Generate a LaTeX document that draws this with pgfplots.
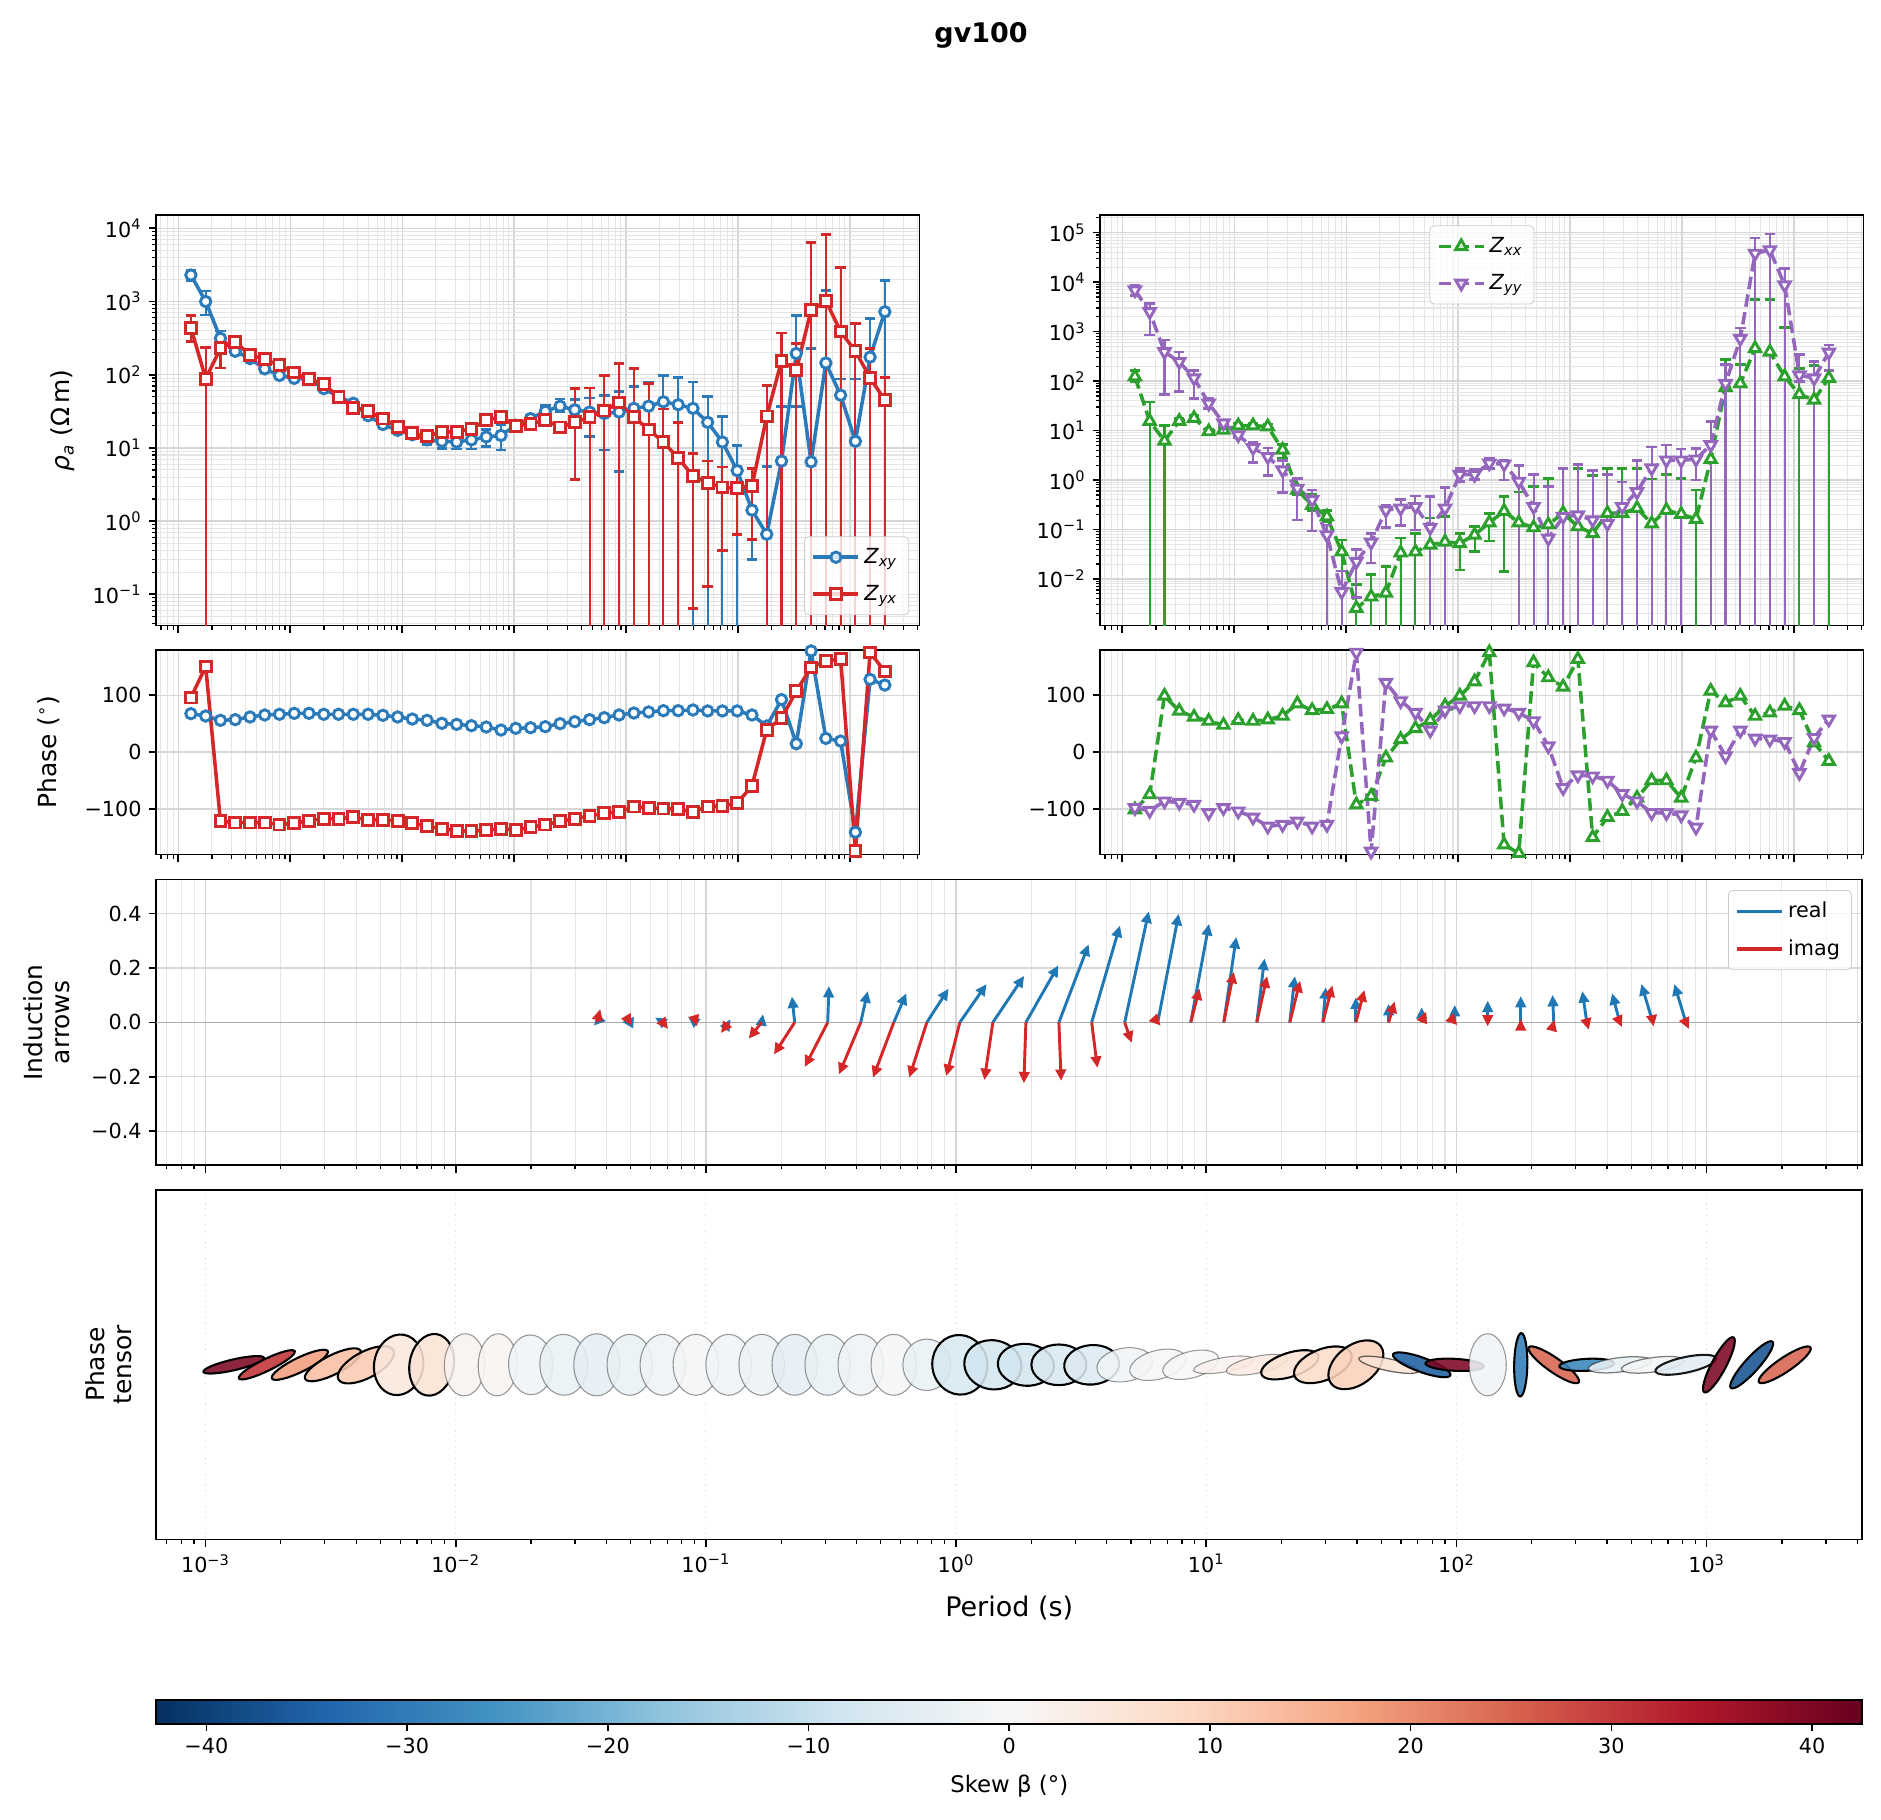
\documentclass[border=0pt]{standalone}
\usepackage{fontspec}
\setmainfont{DejaVu Sans}
\usepackage{pgfplots}
\usepackage{pgfplotstable}
\pgfplotsset{compat=1.18}
\usetikzlibrary{arrows.meta}

\definecolor{cxy}{HTML}{2B7BBA}
\definecolor{cyx}{HTML}{D62728}
\definecolor{cxx}{HTML}{2CA02C}
\definecolor{cyy}{HTML}{9467BD}
\definecolor{cre}{HTML}{1F77B4}
\definecolor{cim}{HTML}{D62728}

\def\xminors{-3.15490,-3.09691,-3.04576,-2.69897,-2.52288,-2.39794,-2.30103,-2.22185,-2.15490,-2.09691,-2.04576,-1.69897,-1.52288,-1.39794,-1.30103,-1.22185,-1.15490,-1.09691,-1.04576,-0.69897,-0.52288,-0.39794,-0.30103,-0.22185,-0.15490,-0.09691,-0.04576,0.30103,0.47712,0.60206,0.69897,0.77815,0.84510,0.90309,0.95424,1.30103,1.47712,1.60206,1.69897,1.77815,1.84510,1.90309,1.95424,2.30103,2.47712,2.60206,2.69897,2.77815,2.84510,2.90309,2.95424,3.30103,3.47712,3.60206}
\def\yminL{-1.39794,-1.30103,-1.22185,-1.15490,-1.09691,-1.04576,-0.69897,-0.52288,-0.39794,-0.30103,-0.22185,-0.15490,-0.09691,-0.04576,0.30103,0.47712,0.60206,0.69897,0.77815,0.84510,0.90309,0.95424,1.30103,1.47712,1.60206,1.69897,1.77815,1.84510,1.90309,1.95424,2.30103,2.47712,2.60206,2.69897,2.77815,2.84510,2.90309,2.95424,3.30103,3.47712,3.60206,3.69897,3.77815,3.84510,3.90309,3.95424}
\def\yminR{-2.69897,-2.52288,-2.39794,-2.30103,-2.22185,-2.15490,-2.09691,-2.04576,-1.69897,-1.52288,-1.39794,-1.30103,-1.22185,-1.15490,-1.09691,-1.04576,-0.69897,-0.52288,-0.39794,-0.30103,-0.22185,-0.15490,-0.09691,-0.04576,0.30103,0.47712,0.60206,0.69897,0.77815,0.84510,0.90309,0.95424,1.30103,1.47712,1.60206,1.69897,1.77815,1.84510,1.90309,1.95424,2.30103,2.47712,2.60206,2.69897,2.77815,2.84510,2.90309,2.95424,3.30103,3.47712,3.60206,3.69897,3.77815,3.84510,3.90309,3.95424,4.30103,4.47712,4.60206,4.69897,4.77815,4.84510,4.90309,4.95424,5.30103}

\pgfdeclareplotmark{ptell}{%
  \pgfpathellipse{\pgfpointorigin}{\pgfqpoint{\ea pt}{0pt}}{\pgfqpoint{0pt}{\eb pt}}%
  \pgfusepathqfillstroke}

% log10 period, log10 rho and log10 error offsets (plus / minus)
\pgfplotstableread{
lp xy xyp xym yx yxp yxm
-2.887 3.362 0.07 0.08 2.643 0.17 0.19
-2.755 3.000 0.144 0.184 1.946 0.43 10
-2.623 2.497 0.10 0.09 2.36 0.05 0.27
-2.491 2.32 0.04 0.04 2.45 0.04 0.04
-2.359 2.22 0.03 0.03 2.27 0.03 0.03
-2.228 2.08 0.03 0.03 2.21 0.03 0.03
-2.096 1.99 0.03 0.03 2.13 0.03 0.03
-1.964 1.95 0.03 0.03 2.03 0.03 0.03
-1.832 1.94 0.03 0.03 1.94 0.03 0.03
-1.700 1.81 0.03 0.03 1.87 0.03 0.03
-1.568 1.70 0.03 0.03 1.70 0.03 0.03
-1.436 1.61 0.03 0.03 1.55 0.03 0.03
-1.304 1.44 0.03 0.03 1.50 0.03 0.03
-1.172 1.32 0.03 0.03 1.40 0.03 0.03
-1.040 1.24 0.03 0.03 1.29 0.03 0.03
-0.909 1.18 0.03 0.03 1.20 0.03 0.03
-0.777 1.11 0.06 0.06 1.16 0.03 0.03
-0.645 1.09 0.08 0.095 1.22 0.03 0.03
-0.513 1.08 0.09 0.095 1.22 0.03 0.03
-0.381 1.11 0.10 0.125 1.26 0.03 0.03
-0.249 1.15 0.10 0.13 1.38 0.03 0.03
-0.117 1.17 0.15 0.20 1.42 0.04 0.04
0.015 1.31 0.05 0.05 1.30 0.04 0.04
0.147 1.40 0.05 0.05 1.33 0.04 0.04
0.279 1.50 0.08 0.08 1.38 0.04 0.04
0.411 1.57 0.10 0.07 1.28 0.05 0.05
0.542 1.52 0.14 0.14 1.35 0.46 0.78
0.674 1.49 0.19 0.33 1.42 0.40 10
0.806 1.47 0.25 0.50 1.51 0.48 10
0.938 1.49 0.28 0.81 1.62 0.53 10
1.070 1.54 0.30 10 1.42 0.66 10
1.202 1.57 0.33 10 1.25 0.63 10
1.334 1.63 0.36 10 1.08 0.45 10
1.466 1.59 0.37 10 0.86 0.49 10
1.598 1.54 0.36 10 0.62 0.30 1.81
1.729 1.35 0.35 10 0.52 0.30 1.41
1.861 1.08 0.35 10 0.46 0.28 0.86
1.993 0.69 0.34 10 0.45 0.30 0.63
2.125 0.15 0.57 0.67 0.48 0.24 0.73
2.257 -0.18 0.93 10 1.43 0.42 10
2.389 0.82 0.75 10 2.19 0.38 10
2.521 2.29 0.52 0.72 2.06 0.37 10
2.653 0.81 1.55 10 2.88 0.93 10
2.785 2.16 0.99 10 3.01 0.91 10
2.917 1.72 0.22 10 2.59 0.87 10
3.049 1.09 0.85 10 2.32 0.38 10
3.180 2.24 0.53 10 1.96 0.40 10
3.312 2.86 0.43 10 1.65 0.31 10
}\rhoL

\pgfplotstableread{
lp xx xxp xxm yy yyp yym
-2.887 2.089 0.13 0.10 3.84 0.10 0.11
-2.755 1.19 0.39 10 3.40 0.17 0.47
-2.623 0.79 0.31 10 2.59 0.24 0.86
-2.491 1.19 0.05 0.05 2.39 0.20 0.60
-2.359 1.25 0.05 0.05 2.06 0.16 0.41
-2.228 0.98 0.05 0.05 1.55 0.11 0.10
-2.096 1.01 0.05 0.05 1.15 0.05 0.05
-1.964 1.10 0.05 0.05 0.91 0.05 0.05
-1.832 1.10 0.05 0.05 0.65 0.12 0.29
-1.700 1.08 0.05 0.05 0.47 0.18 0.38
-1.568 0.61 0.11 0.17 0.20 0.20 0.45
-1.436 -0.20 0.23 0.10 -0.17 0.20 0.64
-1.304 -0.51 0.22 0.10 -0.40 0.20 0.63
-1.172 -0.74 0.13 0.10 -1.11 0.20 10
-1.040 -1.45 0.24 10 -2.26 0.42 10
-0.909 -2.59 0.48 10 -1.65 0.24 0.73
-0.777 -2.36 0.45 10 -1.26 0.18 0.42
-0.645 -2.28 0.53 10 -0.61 0.10 0.35
-0.513 -1.47 0.30 10 -0.57 0.17 0.35
-0.381 -1.45 0.37 10 -0.54 0.22 0.47
-0.249 -1.31 0.54 10 -0.96 0.62 10
-0.117 -1.25 0.51 10 -0.57 0.42 10
0.015 -1.28 0.20 0.54 0.11 0.13 0.14
0.147 -1.11 0.17 0.34 0.11 0.10 0.10
0.279 -0.86 0.19 0.37 0.34 0.10 0.10
0.411 -0.63 0.29 1.22 0.32 0.08 0.32
0.542 -0.86 0.62 10 -0.03 0.32 10
0.674 -0.96 0.83 10 -0.54 0.65 10
0.806 -0.90 0.93 10 -1.18 1.05 10
0.938 -0.67 0.91 10 -0.74 0.98 10
1.070 -0.94 1.18 10 -0.71 1.03 10
1.202 -1.08 1.17 10 -0.81 1.00 10
1.334 -0.67 0.91 10 -0.88 0.99 10
1.466 -0.67 0.91 10 -0.54 0.50 10
1.598 -0.57 0.81 10 -0.24 0.64 10
1.729 -0.88 0.90 10 0.24 0.43 10
1.861 -0.61 0.72 10 0.40 0.31 10
1.993 -0.69 0.72 10 0.40 0.23 10
2.125 -0.79 0.59 10 0.42 0.22 0.42
2.257 0.42 0.77 10 0.71 0.47 10
2.389 1.87 0.56 10 1.95 0.39 10
2.521 1.95 0.39 10 2.86 0.21 10
2.653 2.66 0.99 10 4.58 0.31 10
2.785 2.59 1.06 10 4.65 0.32 10
2.917 2.09 1.00 10 3.94 0.33 10
3.049 1.73 0.53 10 2.12 0.42 0.13
3.180 1.62 0.69 10 2.06 0.33 10
3.312 2.06 0.16 10 2.58 0.15 0.36
}\rhoR

\pgfplotstableread{
lp pxy pyx pxx pyy
-2.887 67.6 95.9 -101.2 -98.2
-2.755 63.5 150.6 -74.7 -103
-2.623 55.9 -121.8 98.8 -86.5
-2.491 57.1 -124.1 72.4 -88.8
-2.359 61.8 -124.1 61.8 -92.4
-2.228 65.3 -124.1 54.7 -107
-2.096 66.5 -127.6 47.6 -98.2
-1.964 68.2 -125.3 55.9 -104
-1.832 68.2 -120.6 54.7 -114.7
-1.700 66.5 -117.1 57.1 -130.6
-1.568 66.5 -117.1 63.5 -127.6
-1.436 66.5 -114.7 85.3 -121.8
-1.304 66.5 -119.4 73.5 -130.6
-1.172 64.7 -119.4 75.3 -127.6
-1.040 61.8 -120.6 85.3 28.2
-0.909 58.2 -124.7 -92.4 175.3
-0.777 55.9 -130.6 -77.6 -174.7
-0.645 50.6 -134.7 -10 122.4
-0.513 48.8 -138.2 22.4 90
-0.381 46.5 -139.4 41.8 69.4
-0.249 44.1 -137.1 55.9 38.2
-0.117 38.8 -134.7 81.2 73.5
0.015 41.8 -137.1 98.8 81.2
0.147 42.9 -132.4 124.1 81.2
0.279 44.7 -127.6 175.3 81.2
0.411 50.0 -121.8 -163 77.1
0.542 53.5 -117.1 -178 69.4
0.674 57.1 -112.4 157.6 54.7
0.806 60.6 -107.6 131.2 10.6
0.938 65.3 -105.3 114.7 -62.9
1.070 68.8 -95.9 163.5 -40.6
1.202 70.6 -98.2 -150 -42.4
1.334 72.9 -99.4 -114.7 -50
1.466 72.9 -100.6 -104.1 -73.5
1.598 74.1 -105.3 -80.6 -86.5
1.729 72.4 -95.9 -50 -107
1.861 72.4 -94.7 -50 -107
1.993 72.4 -90.0 -80.6 -111
2.125 65.3 -59.4 -10 -132.4
2.257 45.9 39.4 107.6 38.2
2.389 92.4 59.4 87 -7
2.521 14.7 107.6 98.8 38.2
2.653 178 148.8 63.5 24.1
2.785 24.1 160.6 69.4 22.4
2.917 19.4 163.5 81.2 18.2
3.049 -141 -173.5 73.5 -36.5
3.180 128 175.3 16.5 25.3
3.312 118 141.8 -15.9 57.6
}\phs

% induction arrows: base at log10 period, components (u in decades, v)
\pgfplotstableread{
lp ru rv iu iv
-1.436 -0.012 -0.012 0.014 0.049
-1.304 -0.031 0.002 0.008 -0.012
-1.172 -0.031 0.018 0.021 -0.024
-1.040 -0.031 0.022 0.005 -0.015
-0.909 0.008 0.012 -0.031 -0.039
-0.777 0.005 0.030 -0.052 -0.060
-0.645 -0.011 0.095 -0.083 -0.118
-0.513 0.005 0.134 -0.092 -0.164
-0.381 0.028 0.115 -0.087 -0.191
-0.249 0.050 0.107 -0.083 -0.203
-0.117 0.087 0.124 -0.070 -0.203
0.015 0.107 0.141 -0.054 -0.197
0.147 0.125 0.171 -0.034 -0.212
0.279 0.130 0.210 -0.008 -0.224
0.411 0.119 0.287 0.009 -0.215
0.542 0.113 0.356 0.023 -0.167
0.674 0.096 0.408 0.028 -0.075
0.806 0.084 0.399 0.012 -0.012
0.938 0.073 0.362 0.035 0.125
1.070 0.050 0.314 0.040 0.186
1.202 0.031 0.235 0.041 0.170
1.334 0.020 0.170 0.041 0.153
1.466 0.012 0.129 0.038 0.136
1.598 0.000 0.092 0.034 0.119
1.729 0.000 0.068 0.024 0.077
1.861 0.000 0.056 0.018 0.040
1.993 0.000 0.064 0.011 -0.010
2.125 0.000 0.080 0.000 -0.015
2.257 0.000 0.097 0.000 0.012
2.389 -0.005 0.101 0.003 0.010
2.521 -0.018 0.115 0.008 -0.027
2.653 -0.031 0.107 0.008 -0.017
2.785 -0.046 0.141 0.003 -0.015
2.917 -0.046 0.141 0.012 -0.024
}\ind

% phase tensor ellipses: semi-axes (px), angle (deg), skew (deg), edge width, edge opacity
\pgfplotstableread{
lp a b ang skew lw eo
-2.887 26 4.5 13 40 1.0 1
-2.755 26 5 26 31 1.0 1
-2.623 26 6 26 18 1.0 1
-2.491 26 8 27 13 1.0 1
-2.359 26 11 28 11 1.0 1
-2.228 25.5 20.5 80 5 1.0 1
-2.096 26 18.5 80 6 1.0 1
-1.964 26 17 88 1.5 0.5 0.4
-1.832 26 16.3 88 1 0.5 0.4
-1.700 25 18.5 92 -1.5 0.5 0.4
-1.568 25.5 20 92 -3 0.5 0.4
-1.436 26 19.2 90 -4 0.5 0.4
-1.304 25.5 19 90 -3 0.5 0.4
-1.172 25.5 19 90 -2 0.5 0.4
-1.040 25.5 19 90 -0.8 0.5 0.4
-0.909 25.5 19 90 -1.5 0.5 0.4
-0.777 25.5 19 90 -2.5 0.5 0.4
-0.645 25.5 19 90 -4 0.5 0.4
-0.513 25.5 19 90 -3 0.5 0.4
-0.381 25.5 19 90 -2 0.5 0.4
-0.249 25.5 19 90 -0.8 0.5 0.4
-0.117 21.5 20 90 -3 0.5 0.4
0.015 25 23 100 -7 1.0 1
0.147 24 20.5 170 -8 1.0 1
0.279 23.5 17.5 175 -8 1.0 1
0.411 23 17 0 -7 1.0 1
0.542 23 16.5 5 -6 1.0 1
0.674 23.5 14 10 -1.5 0.5 0.4
0.806 24 12 15 -0.5 0.5 0.4
0.938 24 11 15 0 0.5 0.4
1.070 25.5 6 10 1.5 0.5 0.4
1.202 26 7 12 4 0.5 0.4
1.334 25 10 18 6 1.0 1
1.466 25.5 13 22 8 1.0 1
1.598 26 16.5 37 10 1.0 1
1.729 25.5 5 -12 6 0.6 0.6
1.861 25.5 6 -20 -35 1.0 1
1.993 24.5 5 -3 40 1.0 1
2.125 26 15.5 90 -1.5 0.5 0.4
2.257 26.5 5.5 89 -30 1.0 1
2.389 25.5 6 -35 25 1.0 1
2.521 23 5 3 -28 1.0 1
2.653 26.5 6 7 -3 0.6 0.5
2.785 26.5 6 8 -1 0.6 0.5
2.917 26 6.5 12 -5 1.0 0.9
3.049 26 6 62 40 1.0 1
3.180 26 6 48 -37 1.0 1
3.312 26 6 34 25 1.0 1
}\ptens

\pgfplotsset{
  every axis/.append style={
    tick align=outside,
    major tick length=3.5bp, minor tick length=2bp,
    every major tick/.append style={line width=0.8bp, black},
    every minor tick/.append style={line width=0.6bp, black},
    axis line style={line width=0.8bp},
    tick label style={font=\fontsize{10}{12}\selectfont},
    label style={font=\fontsize{12}{13}\selectfont},
  },
  base/.style={
    scale only axis, anchor=north west,
    xmin=-3.197, xmax=3.622, tick pos=left,
    xtick={-3,-2,-1,0,1,2,3}, minor xtick=\xminors,
    major grid style={black!16, line width=0.6bp},
    minor grid style={black!10, line width=0.5bp},
    legend style={font=\fontsize{10}{12}\selectfont, draw=black!20, rounded corners=2bp,
      fill=white, fill opacity=0.8, text opacity=1, inner sep=3.5bp, row sep=5bp},
    legend cell align=left,
    legend image code/.code={\draw[mark repeat=2,mark phase=2,##1] plot coordinates {(0cm,0cm) (0.38cm,0cm) (0.76cm,0cm)};},
  },
  xlabs/.style={xticklabels={10\textsuperscript{−3},10\textsuperscript{−2},10\textsuperscript{−1},10\textsuperscript{0},10\textsuperscript{1},10\textsuperscript{2},10\textsuperscript{3}}},
  ebar/.style={error bars/.cd, y dir=both, y explicit, error bar style={line width=1.0bp, solid}, error mark options={rotate=90, line width=1.3bp, mark size=2.5bp, solid}},
  lw/.style={line width=1.7bp},
  mo/.style={mark options={fill=white, line width=1.4bp, solid, #1}},
}

\begin{document}
\begin{tikzpicture}
\path[use as bounding box] (0,0) rectangle (902.88bp,-873.12bp);
\node[font=\bfseries\fontsize{13}{15}\selectfont, anchor=base] at (470.9bp,-20.6bp) {gv100};

% ---------- apparent resistivity, off-diagonal
\begin{axis}[base, at={(74.98bp,-103.2bp)}, width=366.4bp, height=197.1bp,
  ymin=-1.428, ymax=4.182, ytick={-1,0,1,2,3,4}, minor ytick=\yminL,
  yticklabels={10\textsuperscript{−1},10\textsuperscript{0},10\textsuperscript{1},10\textsuperscript{2},10\textsuperscript{3},10\textsuperscript{4}},
  xticklabels={}, grid=both,
  ylabel={\textit{ρ}\textsubscript{\textit{a}} (Ω\,m)},
  ylabel style={at={(axis description cs:-0.122,0.5)}, anchor=center},
  legend style={at={(1,0)}, anchor=south east, xshift=-5bp, yshift=5bp}]
\addplot[cxy, lw, mark=*, mark size=2.5bp, mo={}, ebar]
  table[x=lp, y=xy, y error plus=xyp, y error minus=xym] {\rhoL};
\addlegendentry{\textit{Z}\textsubscript{\textit{xy}}}
\addplot[cyx, lw, mark=square*, mark size=2.6bp, mo={}, ebar]
  table[x=lp, y=yx, y error plus=yxp, y error minus=yxm] {\rhoL};
\addlegendentry{\textit{Z}\textsubscript{\textit{yx}}}
\end{axis}

% ---------- apparent resistivity, diagonal
\begin{axis}[base, at={(528.1bp,-103.2bp)}, width=366.4bp, height=197.1bp,
  ymin=-2.943, ymax=5.357, ytick={-2,-1,0,1,2,3,4,5}, minor ytick=\yminR,
  yticklabels={10\textsuperscript{−2},10\textsuperscript{−1},10\textsuperscript{0},10\textsuperscript{1},10\textsuperscript{2},10\textsuperscript{3},10\textsuperscript{4},10\textsuperscript{5}},
  xticklabels={}, grid=both,
  legend style={at={(0.5,1)}, anchor=north, yshift=-5bp}]
\addplot[cxx, lw, dash pattern=on 6bp off 2.6bp, mark=triangle*, mark size=3.1bp, mo={}, ebar]
  table[x=lp, y=xx, y error plus=xxp, y error minus=xxm] {\rhoR};
\addlegendentry{\textit{Z}\textsubscript{\textit{xx}}}
\addplot[cyy, lw, dash pattern=on 6bp off 2.6bp, mark=triangle*, mark size=3.1bp, mo={rotate=180}, ebar]
  table[x=lp, y=yy, y error plus=yyp, y error minus=yym] {\rhoR};
\addlegendentry{\textit{Z}\textsubscript{\textit{yy}}}
\end{axis}

% ---------- phase, off-diagonal
\begin{axis}[base, at={(74.98bp,-311.9bp)}, width=366.4bp, height=98.2bp,
  ymin=-180, ymax=180, ytick={-100,0,100}, yticklabels={−100,0,100},
  xticklabels={}, xmajorgrids, xminorgrids, ymajorgrids,
  ylabel={Phase (\textsuperscript{∘})},
  ylabel style={at={(axis description cs:-0.1414,0.5)}, anchor=center}]
\addplot[cxy, lw, mark=*, mark size=2.5bp, mo={}]
  table[x=lp, y=pxy] {\phs};
\addplot[cyx, lw, mark=square*, mark size=2.6bp, mo={}]
  table[x=lp, y=pyx] {\phs};
\end{axis}

% ---------- phase, diagonal
\begin{axis}[base, at={(528.1bp,-311.9bp)}, width=366.4bp, height=98.2bp,
  ymin=-180, ymax=180, ytick={-100,0,100}, yticklabels={−100,0,100},
  xticklabels={}, xmajorgrids, xminorgrids, ymajorgrids]
\addplot[cxx, lw, dash pattern=on 6bp off 2.6bp, mark=triangle*, mark size=3.1bp, mo={}]
  table[x=lp, y=pxx] {\phs};
\addplot[cyy, lw, dash pattern=on 6bp off 2.6bp, mark=triangle*, mark size=3.1bp, mo={rotate=180}]
  table[x=lp, y=pyy] {\phs};
\end{axis}

% ---------- induction arrows
\begin{axis}[base, at={(74.98bp,-422.2bp)}, width=818.9bp, height=137.1bp,
  ymin=-0.525, ymax=0.525, ytick={-0.4,-0.2,0,0.2,0.4}, yticklabels={−0.4,−0.2,0.0,0.2,0.4},
  xticklabels={}, xmajorgrids, xminorgrids, ymajorgrids,
  ylabel={Induction\\arrows},
  ylabel style={align=center, at={(axis description cs:-0.0642,0.5)}, anchor=center},
  legend style={at={(1,1)}, anchor=north east, xshift=-5bp, yshift=-5bp}]
\addplot[forget plot, black!32, line width=0.8bp] coordinates {(-3.197,0) (3.622,0)};
\addplot[forget plot, cre, line width=1.4bp, -{Triangle[length=5.5bp,width=5bp]},
  quiver={u=\thisrow{ru}, v=\thisrow{rv}}] table[x=lp, y expr=0] {\ind};
\addplot[forget plot, cim, line width=1.4bp, -{Triangle[length=5.5bp,width=5bp]},
  quiver={u=\thisrow{iu}, v=\thisrow{iv}}] table[x=lp, y expr=0] {\ind};
\addlegendimage{cre, line width=1.6bp}
\addlegendentry{real}
\addlegendimage{cim, line width=1.6bp}
\addlegendentry{imag}
\end{axis}

% ---------- phase tensor ellipses
\begin{axis}[base, at={(74.98bp,-571.2bp)}, width=818.9bp, height=167.8bp,
  ymin=-1, ymax=1, ytick=\empty, xlabs, xmajorgrids,
  major grid style={black!12, dotted, line width=0.5bp},
  xlabel={Period (s)},
  xlabel style={font=\fontsize{13}{15}\selectfont, at={(axis description cs:0.5,-0.1955)}, anchor=center},
  ylabel={Phase\\tensor},
  ylabel style={align=center, at={(axis description cs:-0.0281,0.5)}, anchor=center},
  colormap={rdbu}{rgb255=(5,48,97) rgb255=(33,102,172) rgb255=(67,147,195) rgb255=(146,197,222) rgb255=(209,229,240) rgb255=(247,247,247) rgb255=(253,219,199) rgb255=(244,165,130) rgb255=(214,96,77) rgb255=(178,24,43) rgb255=(103,0,31)},
  point meta min=-42.5, point meta max=42.5,
  colorbar horizontal,
  colorbar style={at={(parent axis.south west)}, anchor=north west, yshift=-68.4bp,
    scale only axis, width=818.9bp, height=11.5bp,
    xtick={-40,-30,-20,-10,0,10,20,30,40}, xticklabels={−40,−30,−20,−10,0,10,20,30,40},
    tick pos=left, tick align=outside, ytick=\empty,
    xlabel={Skew β (°)},
    xlabel style={font=\fontsize{11}{13}\selectfont, at={(axis description cs:0.5,0)}, yshift=-29.8bp, anchor=center}}]
\addplot[scatter, only marks, mark=ptell, point meta=explicit,
  visualization depends on={\thisrow{a}\as\ea},
  visualization depends on={\thisrow{b}\as\eb},
  visualization depends on={\thisrow{ang}\as\eang},
  visualization depends on={\thisrow{lw}\as\elw},
  visualization depends on={\thisrow{eo}\as\eeo},
  scatter/use mapped color={draw=black, fill=mapped color},
  scatter/@pre marker code/.append code={\pgftransformrotate{\eang}\pgftransformscale{0.576}\pgfsetlinewidth{\elw bp}\pgfsetstrokeopacity{\eeo}\pgfsetfillopacity{0.88}}]
  table[x=lp, y expr=0, meta=skew] {\ptens};
\end{axis}
\end{tikzpicture}
\end{document}
